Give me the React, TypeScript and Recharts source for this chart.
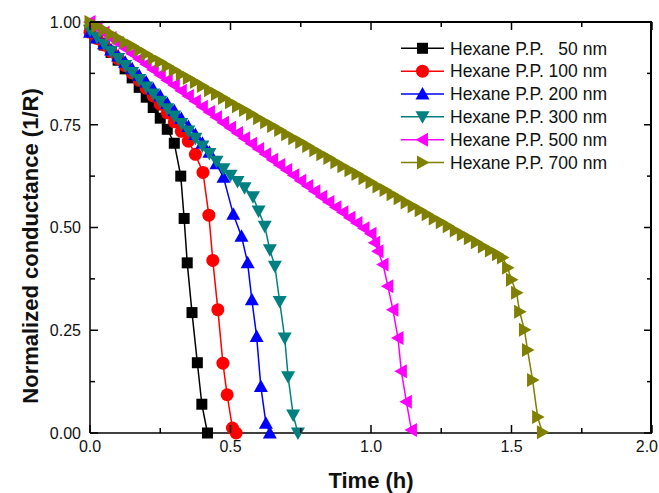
import React from "react";
import { LineChart, Line, XAxis, YAxis } from "recharts";

const FONT = '"Liberation Sans", Arial, Helvetica, sans-serif';

// [time (h), normalized conductance]
const hex50: [number, number][] = [
  [0, 0.98], [0.025, 0.962], [0.05, 0.944], [0.075, 0.926], [0.1, 0.907],
  [0.125, 0.886], [0.15, 0.864], [0.175, 0.841], [0.2, 0.817], [0.225, 0.792],
  [0.25, 0.766], [0.275, 0.739], [0.3, 0.705],
  [0.323, 0.625], [0.335, 0.522], [0.346, 0.414], [0.363, 0.293],
  [0.382, 0.171], [0.398, 0.07], [0.418, 0.0],
];

const hex100: [number, number][] = [
  [0, 0.975], [0.025, 0.96], [0.05, 0.944], [0.075, 0.928], [0.1, 0.911],
  [0.125, 0.894], [0.15, 0.876], [0.175, 0.858], [0.2, 0.839], [0.225, 0.82],
  [0.25, 0.8], [0.275, 0.779], [0.3, 0.757], [0.325, 0.734], [0.35, 0.71],
  [0.375, 0.678],
  [0.402, 0.634], [0.423, 0.53], [0.437, 0.42], [0.455, 0.3], [0.473, 0.17],
  [0.488, 0.093], [0.507, 0.012], [0.52, 0.0],
];

const hex200: [number, number][] = [
  [0, 0.975], [0.025, 0.961], [0.05, 0.947], [0.075, 0.932], [0.1, 0.917],
  [0.125, 0.902], [0.15, 0.886], [0.175, 0.87], [0.2, 0.854], [0.225, 0.837],
  [0.25, 0.82], [0.275, 0.802], [0.3, 0.784], [0.325, 0.765], [0.35, 0.746],
  [0.375, 0.726], [0.4, 0.705], [0.425, 0.683], [0.45, 0.655], [0.475, 0.622],
  [0.51, 0.532], [0.539, 0.479], [0.561, 0.414], [0.576, 0.324], [0.593, 0.235],
  [0.608, 0.113], [0.626, 0.024], [0.64, 0.0],
];

const hex300: [number, number][] = [
  [0, 0.98], [0.025, 0.963], [0.05, 0.946], [0.075, 0.929], [0.1, 0.911],
  [0.125, 0.894], [0.15, 0.877], [0.175, 0.86], [0.2, 0.842], [0.225, 0.825],
  [0.25, 0.807], [0.275, 0.789], [0.3, 0.771], [0.325, 0.753], [0.35, 0.735],
  [0.375, 0.717], [0.4, 0.698], [0.425, 0.68], [0.45, 0.661], [0.475, 0.643],
  [0.5, 0.627], [0.525, 0.612], [0.55, 0.597],
  [0.58, 0.575], [0.6, 0.54], [0.622, 0.503], [0.64, 0.446], [0.658, 0.406],
  [0.675, 0.32], [0.693, 0.231], [0.705, 0.137], [0.723, 0.044], [0.74, 0.0],
];

const hex500: [number, number][] = [
  [0, 1.0], [0.025, 0.987], [0.05, 0.974], [0.075, 0.961], [0.1, 0.949],
  [0.125, 0.936], [0.15, 0.923], [0.175, 0.91], [0.2, 0.897], [0.225, 0.884],
  [0.25, 0.871], [0.275, 0.858], [0.3, 0.846], [0.325, 0.833], [0.35, 0.82],
  [0.375, 0.807], [0.4, 0.794], [0.425, 0.781], [0.45, 0.768], [0.475, 0.755],
  [0.5, 0.743], [0.525, 0.73], [0.55, 0.717], [0.575, 0.704], [0.6, 0.691],
  [0.625, 0.678], [0.65, 0.665], [0.675, 0.652], [0.7, 0.64], [0.725, 0.627],
  [0.75, 0.614], [0.775, 0.601], [0.8, 0.588], [0.825, 0.575], [0.85, 0.562],
  [0.875, 0.549], [0.9, 0.537], [0.925, 0.524], [0.95, 0.511], [0.975, 0.498],
  [1.0, 0.485],
  [1.013, 0.463], [1.025, 0.442], [1.043, 0.41], [1.06, 0.357], [1.078, 0.3],
  [1.096, 0.231], [1.108, 0.15], [1.126, 0.076], [1.144, 0.007],
];

const hex700: [number, number][] = [
  [0, 1.0], [0.025, 0.99], [0.05, 0.981], [0.075, 0.971], [0.1, 0.961],
  [0.125, 0.951], [0.15, 0.942], [0.175, 0.932], [0.2, 0.922], [0.225, 0.912],
  [0.25, 0.903], [0.275, 0.893], [0.3, 0.883], [0.325, 0.873], [0.35, 0.864],
  [0.375, 0.854], [0.4, 0.844], [0.425, 0.834], [0.45, 0.825], [0.475, 0.815],
  [0.5, 0.805], [0.525, 0.795], [0.55, 0.786], [0.575, 0.776], [0.6, 0.766],
  [0.625, 0.756], [0.65, 0.747], [0.675, 0.737], [0.7, 0.727], [0.725, 0.717],
  [0.75, 0.708], [0.775, 0.698], [0.8, 0.688], [0.825, 0.678], [0.85, 0.669],
  [0.875, 0.659], [0.9, 0.649], [0.925, 0.639], [0.95, 0.63], [0.975, 0.62],
  [1.0, 0.61], [1.025, 0.6], [1.05, 0.591], [1.075, 0.581], [1.1, 0.571],
  [1.125, 0.561], [1.15, 0.552], [1.175, 0.542], [1.2, 0.532], [1.225, 0.522],
  [1.25, 0.513], [1.275, 0.503], [1.3, 0.493], [1.325, 0.483], [1.35, 0.474],
  [1.375, 0.464], [1.4, 0.454], [1.425, 0.444], [1.45, 0.435], [1.468, 0.427],
  [1.486, 0.402], [1.5, 0.373], [1.518, 0.341], [1.529, 0.295], [1.546, 0.251],
  [1.557, 0.202], [1.575, 0.129], [1.593, 0.039], [1.61, 0.002],
];

const seriesNames = [
  "Hexane P.P. \u200750 nm",
  "Hexane P.P. 100 nm",
  "Hexane P.P. 200 nm",
  "Hexane P.P. 300 nm",
  "Hexane P.P. 500 nm",
  "Hexane P.P. 700 nm",
];
const seriesColors = ["#000000", "#ff0000", "#0000ff", "#008080", "#ff00ff", "#808000"];
const seriesShapes = ["square", "circle", "up", "down", "left", "right"];
const seriesData = [hex50, hex100, hex200, hex300, hex500, hex700];

const xTicks = [0, 0.25, 0.5, 0.75, 1, 1.25, 1.5, 1.75, 2];
const yTicks = [0, 0.125, 0.25, 0.375, 0.5, 0.625, 0.75, 0.875, 1];

// chart box
const W = 659;
const H = 493;
const MARGIN = { top: 22, right: 7, bottom: 0, left: 0 };
const Y_AXIS_W = 90;
const X_AXIS_H = 60;
const PLOT_LEFT = MARGIN.left + Y_AXIS_W;
const PLOT_TOP = MARGIN.top;
const PLOT_RIGHT = W - MARGIN.right;
const PLOT_BOTTOM = H - MARGIN.bottom - X_AXIS_H;

const isMajorX = (v: number) => Math.abs(v * 2 - Math.round(v * 2)) < 1e-6;
const isMajorY = (v: number) => Math.abs(v * 4 - Math.round(v * 4)) < 1e-6;

function Marker({ cx, cy, shape, color }: { cx?: number; cy?: number; shape: string; color: string }) {
  if (cx == null || cy == null || isNaN(cx) || isNaN(cy)) return null;
  const a = 7; // half size of triangles
  switch (shape) {
    case "square":
      return <rect x={cx - 5.5} y={cy - 5.5} width={11} height={11} fill={color} />;
    case "circle":
      return <circle cx={cx} cy={cy} r={6.5} fill={color} />;
    case "up":
      return <polygon points={`${cx},${cy - a} ${cx - a},${cy + 5.5} ${cx + a},${cy + 5.5}`} fill={color} />;
    case "down":
      return <polygon points={`${cx},${cy + a} ${cx - a},${cy - 5.5} ${cx + a},${cy - 5.5}`} fill={color} />;
    case "left":
      return <polygon points={`${cx - a},${cy} ${cx + 5.5},${cy - a} ${cx + 5.5},${cy + a}`} fill={color} />;
    default:
      return <polygon points={`${cx + a},${cy} ${cx - 5.5},${cy - a} ${cx - 5.5},${cy + a}`} fill={color} />;
  }
}

const tickText = { fontFamily: FONT, fontSize: 16, fill: "#111" };

const BottomTick = (p: any) => {
  const v = p.payload.value;
  const last = v >= 2;
  return (
    <g>
      <line x1={p.x} y1={p.y} x2={p.x} y2={p.y - (isMajorX(v) ? 8 : 5)} stroke="#000" strokeWidth={1.5} />
      {isMajorX(v) && (
        <text
          x={last ? p.x + 6 : p.x}
          y={p.y + 7}
          dy="0.72em"
          textAnchor={last ? "end" : "middle"}
          {...tickText}
        >
          {v.toFixed(1)}
        </text>
      )}
    </g>
  );
};

const LeftTick = (p: any) => {
  const v = p.payload.value;
  return (
    <g>
      <line x1={p.x} y1={p.y} x2={p.x + (isMajorY(v) ? 8 : 5)} y2={p.y} stroke="#000" strokeWidth={1.5} />
      {isMajorY(v) && (
        <text x={p.x - 9} y={p.y} dy="0.36em" textAnchor="end" {...tickText}>
          {v.toFixed(2)}
        </text>
      )}
    </g>
  );
};

const axisLine = { stroke: "#000", strokeWidth: 1.5 };

// mirrored ticks on the top and right edges, placed with the same spacing as the axes
const plotW = PLOT_RIGHT - PLOT_LEFT;
const plotH = PLOT_BOTTOM - PLOT_TOP;

export default function App() {
  const lines = seriesData.map((pts) => pts.map(([t, g]) => ({ t, g })));

  return (
    <div style={{ position: "absolute", left: 0, top: 0, width: W, height: H, background: "#fff" }}>
      <LineChart width={W} height={H} margin={MARGIN}>
        <XAxis
          dataKey="t"
          type="number"
          domain={[0, 2]}
          ticks={xTicks}
          interval={0}
          height={X_AXIS_H}
          tickSize={0}
          tickMargin={0}
          tickLine={false}
          tick={BottomTick}
          axisLine={axisLine}
        />
        <YAxis
          type="number"
          domain={[0, 1]}
          ticks={yTicks}
          interval={0}
          width={Y_AXIS_W}
          tickSize={0}
          tickMargin={0}
          tickLine={false}
          tick={LeftTick}
          axisLine={axisLine}
        />
        {lines.map((data, i) => (
          <Line
            key={seriesNames[i]}
            data={data}
            dataKey="g"
            type="linear"
            stroke={seriesColors[i]}
            strokeWidth={1.5}
            isAnimationActive={false}
            activeDot={false}
            dot={(p: any) => (
              <Marker key={`${i}-${p.index}`} cx={p.cx} cy={p.cy} shape={seriesShapes[i]} color={seriesColors[i]} />
            )}
          />
        ))}
      </LineChart>

      {/* top and right frame edges */}
      <div
        style={{
          position: "absolute",
          left: PLOT_LEFT,
          top: PLOT_TOP - 1,
          width: plotW,
          height: plotH + 1,
          borderTop: "2px solid #000",
          borderRight: "2px solid #000",
          boxSizing: "border-box",
          pointerEvents: "none",
        }}
      />

      {/* mirrored ticks, titles and legend */}
      <svg width={W} height={H} style={{ position: "absolute", left: 0, top: 0, pointerEvents: "none" }}>
        {xTicks.map((v) => {
          const x = PLOT_LEFT + (v / 2) * plotW;
          return (
            <line key={`mt${v}`} x1={x} y1={PLOT_TOP} x2={x} y2={PLOT_TOP + (isMajorX(v) ? 8 : 5)} stroke="#000" strokeWidth={1.5} />
          );
        })}
        {yTicks.map((v) => {
          const y = PLOT_BOTTOM - v * plotH;
          return (
            <line key={`mr${v}`} x1={PLOT_RIGHT} y1={y} x2={PLOT_RIGHT - (isMajorY(v) ? 8 : 5)} y2={y} stroke="#000" strokeWidth={1.5} />
          );
        })}
        <text
          x={(PLOT_LEFT + PLOT_RIGHT) / 2}
          y={488}
          textAnchor="middle"
          fontFamily={FONT}
          fontSize={22}
          fontWeight="bold"
          fill="#111"
        >
          Time (h)
        </text>
        <text
          transform="rotate(-90 30 246)"
          x={30}
          y={246}
          dy="0.36em"
          textAnchor="middle"
          fontFamily={FONT}
          fontSize={22}
          fontWeight="bold"
          fill="#111"
        >
          Normalized conductance (1/R)
        </text>
        {seriesNames.map((name, i) => {
          const y = 48.3 + i * 22.85;
          return (
            <g key={name}>
              <line x1={401} y1={y} x2={444} y2={y} stroke={seriesColors[i]} strokeWidth={1.5} />
              <Marker cx={422.5} cy={y} shape={seriesShapes[i]} color={seriesColors[i]} />
              <text x={450} y={y} dy="0.36em" fontFamily={FONT} fontSize={17.5} fill="#111">
                {name}
              </text>
            </g>
          );
        })}
      </svg>
    </div>
  );
}
